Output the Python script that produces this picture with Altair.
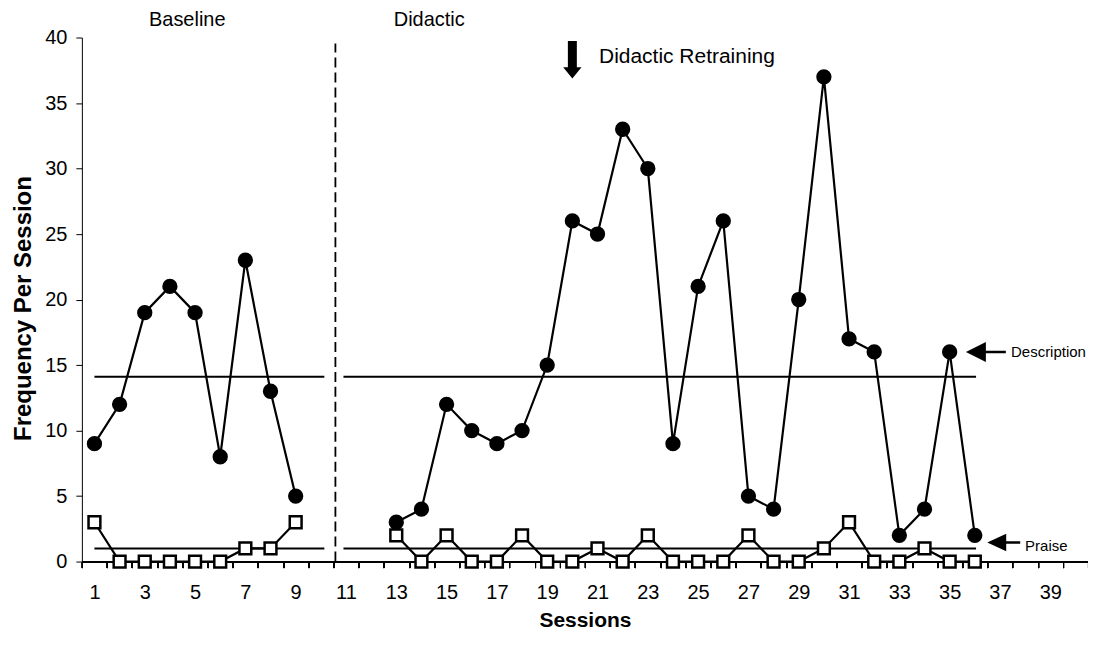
import altair as alt
import pandas as pd

FONT = "Liberation Sans"

# ---- data ----
base_sessions = [1, 2, 3, 4, 5, 6, 7, 8, 9]
base_description = [9, 12, 19, 21, 19, 8, 23, 13, 5]
base_praise = [3, 0, 0, 0, 0, 0, 1, 1, 3]

did_sessions = list(range(13, 37))
did_description = [3, 4, 12, 10, 9, 10, 15, 26, 25, 33, 30, 9,
                   21, 26, 5, 4, 20, 37, 17, 16, 2, 4, 16, 2]
did_praise = [2, 0, 2, 0, 0, 2, 0, 0, 1, 0, 2, 0,
              0, 0, 2, 0, 0, 1, 3, 0, 0, 1, 0, 0]

# mean (level) lines per phase: start session, end session, level
mean_start = [1.0, 10.9, 1.0, 10.9]
mean_end = [10.14, 36.05, 10.14, 36.05]
mean_level = [14.1, 14.1, 1.0, 1.0]

phase_change_x = [10.58]
phase_change_top = [39.55]

x_tick_bounds = [i + 0.5 for i in range(0, 41)]
x_tick_labels = list(range(1, 40, 2))
y_ticks = [0, 5, 10, 15, 20, 25, 30, 35, 40]

rows = []
for s, d, p in zip(base_sessions, base_description, base_praise):
    rows.append(dict(session=s, value=d, measure="Description", phase="Baseline"))
    rows.append(dict(session=s, value=p, measure="Praise", phase="Baseline"))
for s, d, p in zip(did_sessions, did_description, did_praise):
    rows.append(dict(session=s, value=d, measure="Description", phase="Didactic"))
    rows.append(dict(session=s, value=p, measure="Praise", phase="Didactic"))
df = pd.DataFrame(rows)
desc = df[df.measure == "Description"]
praise = df[df.measure == "Praise"]

means = pd.DataFrame({"x": mean_start, "x2": mean_end, "y": mean_level})
phase_df = pd.DataFrame({"x": phase_change_x, "y": [0], "y2": phase_change_top})

xscale = alt.Scale(domain=[0.5, 40.5], nice=False, zero=False)
yscale = alt.Scale(domain=[0, 40], nice=False, zero=True)

x_ticks_axis = alt.Axis(values=x_tick_bounds, labels=False, tickSize=6, tickColor="black",
                        domainColor="black", grid=False, title=None, orient="bottom",
                        tickWidth=1, domainWidth=1)
x_label_axis = alt.Axis(values=x_tick_labels, tickSize=0, domain=False, grid=False,
                        labelFont=FONT, labelFontSize=20, labelColor="black",
                        labelBaseline="middle", labelPadding=31, title="Sessions",
                        titleFont=FONT, titleFontSize=21, titleFontWeight="bold",
                        titleColor="black", titlePadding=7, orient="bottom",
                        labelFlush=False, labelOverlap=False)
y_axis = alt.Axis(values=y_ticks, tickSize=6, tickColor="black", domainColor="black",
                  grid=False, labelFont=FONT, labelFontSize=20, labelColor="black",
                  labelPadding=9, title="Frequency Per Session", titleFont=FONT,
                  titleFontSize=24, titleFontWeight="bold", titleColor="black",
                  titlePadding=9, titleY=271)

X = lambda f="session": alt.X(f"{f}:Q", scale=xscale, axis=x_ticks_axis)
Y = lambda f="value": alt.Y(f"{f}:Q", scale=yscale, axis=y_axis)

mean_rules = alt.Chart(means).mark_rule(color="black", strokeWidth=2).encode(
    x=alt.X("x:Q", scale=xscale, axis=x_ticks_axis), x2="x2:Q", y=Y("y"))

phase_rule = alt.Chart(phase_df).mark_rule(color="black", strokeWidth=1.8,
                                           strokeDash=[10, 5]).encode(
    x=alt.X("x:Q", scale=xscale, axis=x_ticks_axis), y=Y("y"), y2="y2:Q")

praise_line = alt.Chart(praise).mark_line(color="black", strokeWidth=2.2).encode(
    x=X(), y=Y(), detail="phase:N")
praise_pts = alt.Chart(praise).mark_point(shape="square", filled=False, fill="white",
                                          fillOpacity=1, stroke="black", strokeWidth=2.5,
                                          size=140, opacity=1).encode(x=X(), y=Y())
desc_line = alt.Chart(desc).mark_line(color="black", strokeWidth=2.2).encode(
    x=X(), y=Y(), detail="phase:N")
desc_pts = alt.Chart(desc).mark_point(shape="circle", filled=True, color="black",
                                      size=235, opacity=1).encode(x=X(), y=Y())

# annotation texts
labels_df = pd.DataFrame({
    "x": [4.69, 12.9, 21.06, 37.44, 38.0],
    "y": [41.33, 41.33, 38.5, 16.0, 1.22],
    "text": ["Baseline", "Didactic", "Didactic Retraining", "Description", "Praise"],
    "size": [20, 20, 21, 15, 15],
    "align": ["center", "left", "left", "left", "left"],
})
texts = []
for _, r in labels_df.iterrows():
    texts.append(alt.Chart(pd.DataFrame([r])).mark_text(
        font=FONT, fontSize=int(r["size"]), align=r["align"], baseline="middle",
        color="black").encode(
        x=alt.X("x:Q", scale=xscale, axis=x_ticks_axis), y=Y("y"), text="text:N"))

# arrows (custom symbol paths)
arrow_down = "M-0.24,-1L0.24,-1L0.24,0.4L0.49,0.4L0,1L-0.49,0.4L-0.24,0.4Z"
arrow_left_desc = "M-1,0L0,-0.5L0,-0.065L1,-0.065L1,0.065L0,0.065L0,0.5Z"
arrow_left_praise = "M-1,0L0.15,-0.53L0.15,-0.075L1,-0.075L1,0.075L0.15,0.075L0.15,0.53Z"
arrows_df = pd.DataFrame({
    "x": [20.0, 36.44, 37.15],
    "y": [38.3, 16.0, 1.45],
    "shape": [arrow_down, arrow_left_desc, arrow_left_praise],
    "size": [1400, 1600, 1089],
})
arrows = []
for _, r in arrows_df.iterrows():
    arrows.append(alt.Chart(pd.DataFrame([r])).mark_point(
        shape=r["shape"], filled=True, color="black", size=int(r["size"]),
        opacity=1, strokeWidth=0).encode(
        x=alt.X("x:Q", scale=xscale, axis=x_ticks_axis), y=Y("y")))

label_axis_layer = alt.Chart(desc).mark_point(opacity=0).encode(
    x=alt.X("session:Q", scale=xscale, axis=x_label_axis), y=Y())

chart = alt.layer(
    mean_rules, phase_rule, praise_line, praise_pts, desc_line, desc_pts,
    *texts, *arrows, label_axis_layer
).resolve_axis(x="independent").properties(
    width=1008, height=525,
    autosize=alt.AutoSizeParams(type="none"),
    padding={"left": 74, "top": 29, "right": 0, "bottom": 68},
    background="white",
).configure_view(strokeWidth=0, stroke=None)

chart.save("out.html", embed_options={"renderer": "svg", "actions": False})
